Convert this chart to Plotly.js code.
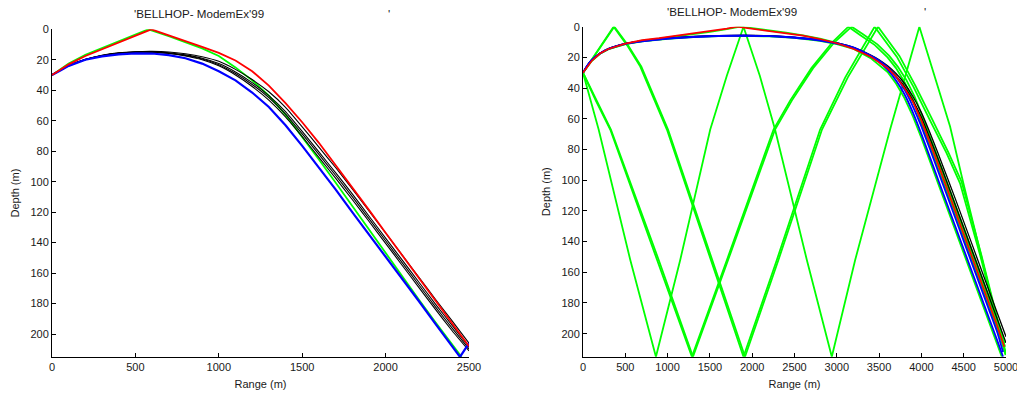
<!DOCTYPE html>
<html>
<head>
<meta charset="utf-8">
<script src="https://cdn.plot.ly/plotly-3.0.1.min.js"></script>
<style>
  html, body { margin: 0; padding: 0; background: #fff; }
  #chart { width: 1017px; height: 394px; }
</style>
</head>
<body>
<div id="chart"></div>
<script>
// ---------------- LEFT PANEL (range 0-2500 m) ----------------
const rangeL_red   = [0,50,100,200,300,450,595,700,800,900,1000,1100,1200,1300,1400,1500,1600,1700,1800,1900,2000,2100,2200,2300,2400,2500];
const depthL_red   = [30,26.5,23,17.5,13.2,6.4,0,4,7.5,11.5,15.5,20.5,27.5,37,48.5,61,74.5,89,103.5,118.5,133.5,148.5,163.5,178.5,193,208];

const rangeL_green = [0,50,100,200,300,450,578,700,800,900,1000,1100,1200,1300,1400,1500,1600,1700,1800,1900,2000,2100,2200,2300,2400,2455];
const depthL_green = [30,26.2,22.5,16.8,12.3,5.5,0,4.5,8.5,12.5,17.5,25,33.5,43.5,56,70.5,85.5,100.5,116,131.5,147,162,177.5,192.5,207.5,215];

const rangeL_blue  = [0,25,50,100,200,300,400,500,600,700,800,900,1000,1100,1200,1300,1400,1500,1600,1700,1800,1900,2000,2100,2200,2300,2400,2446,2500];
const depthL_blue  = [30,28.3,27,24,20,17.8,16.4,15.8,15.9,17,19,22.5,27.5,33.5,41.5,51,63,76.5,90.5,105,120,134.5,149,164,178.5,193.5,208,215,206];

const rangeL_black  = [0,25,50,100,200,300,400,500,600,700,800,900,1000,1100,1200,1300,1400,1500,1600,1700,1800,1900,2000,2100,2200,2300,2400,2500];
const depthL_black1 = [30,28.3,26.9,23.9,19.8,17.2,15.6,14.9,14.8,15.4,16.8,19,22.5,28,35,43.5,54,67,80.5,94,108,122.5,137,151.5,166,180.5,194.5,208.5];
const depthL_black2 = [30,28.3,27,24,19.9,17.4,15.8,15.1,15.1,15.9,17.5,20,24,30,37.5,46.5,57.5,70.5,84,97.7,111.7,126,140.5,155,169.5,184,198,211];
const depthL_black3 = [30,28.2,26.8,23.8,19.7,17,15.4,14.7,14.5,14.9,16.1,18,21,26.3,33,41,51.2,64,77.3,90.7,104.7,119.2,133.7,148.2,162.8,177.3,191.5,206];
const depthL_black4 = [30,28.3,26.9,24,19.9,17.3,15.7,15,15,15.7,17.2,19.5,23.2,29,36.2,44.8,55.6,68.6,82.1,95.8,109.8,124.2,138.8,153.3,167.8,182.3,196.3,209.8];

// ---------------- RIGHT PANEL (range 0-5000 m) ----------------
const rangeR_red   = [0,100,200,300,500,700,900,1100,1300,1500,1700,1820,2000,2200,2400,2600,2800,3000,3200,3400,3600,3700,3800,3900,4000,4100,4200,4300,4400,4500,4600,4700,4800,4900,4980];
const depthR_red   = [30,22.5,17.5,14.5,11,8.8,7.5,6,4.5,3,1.2,0,1.3,2.6,4,5.8,8,10.8,14.5,19.5,27,32.5,40,49,61,75,90,105,120,135,150,165,180,195.5,208.5];

const rangeR_blue  = [0,50,100,200,300,500,700,1000,1300,1600,1900,2200,2500,2800,3000,3200,3400,3500,3600,3700,3800,3900,4000,4100,4200,4300,4400,4500,4600,4700,4800,4900,4965];
const depthR_blue1 = [30,25.5,22,17.5,14.5,11.2,9.5,7.8,6.7,6.1,5.9,6.2,7.2,9,11,14,19.5,23,28,35,44,56,70,85,100,115,130,145,160,175,190,205,215];
const depthR_blue2 = [30,25.5,22,17.4,14.4,11.1,9.4,7.7,6.6,6,5.8,6.1,7,8.8,10.7,13.6,18.8,22,26.5,32.5,41,52,65,79.5,94.5,109.5,124.5,139.5,154.5,169.5,184.5,199.5,212];

const rangeR_black  = [0,50,100,200,300,500,700,1000,1300,1600,1900,2200,2500,2800,3000,3200,3400,3500,3600,3700,3800,3900,4000,4100,4200,4300,4400,4500,4600,4700,4800,4900,5000];
const depthR_black1 = [30,25.3,21.8,17.3,14.3,11,9.2,7.5,6.4,5.8,5.6,5.9,6.9,8.7,10.6,13.5,18.5,21.5,25.5,30.5,37,45.5,56,69,83,97.5,112,127,142,157,172,187,202];
const depthR_black2 = [30,25.4,21.9,17.4,14.4,11.1,9.3,7.6,6.5,5.9,5.7,6,7,8.8,10.8,13.8,19,22.2,26.5,32,39,48,59,72.5,86.5,101,116,131,146,161,176,191,206];

// green rays (steep, bouncing between surface and bottom)
const rangeR_gA = [0,185,559,862,1149,1504,1700,1897,2090,2270,2646,2941,3217,3630,3976,4182,4339,4496,4750,4995];
const depthR_gA = [30,67,152,215,152,67,32,0,32,67,152,215,152,67,0,37,65,102,160,214];

const rangeR_gB1 = [0,362,520,677,992,1515,1897,2291,2803,3100,3447,3709,3905,4102,4299,4457,4700,4990];
const depthR_gB1 = [30,0,12,26,67,152,215,152,67,33,0,19.5,39,61,82.5,102,150,213];
const rangeR_gB2 = [0,370,530,690,1005,1530,1915,2310,2825,3130,3487,3740,3930,4125,4320,4475,4710,4995];
const depthR_gB2 = [30,0,12,26,67,152,215,152,67,33,0,19,38.5,60,82,101,149,212];

const rangeR_gC1 = [0,150,322,880,1287,1701,2252,2450,2700,2950,3137,3275,3450,3600,3700,3800,3900,4000,4100,4200,4300,4400,4500,4600,4700,4800,4900,4975];
const depthR_gC1 = [30,48,67,152,215,152,67,48,27,10,0,5.4,12,20,27,36,47.5,63,77.5,92.5,107.5,122.5,137.5,152.5,167.5,182.5,197.5,209];
const rangeR_gC2 = [0,150,330,895,1300,1715,2270,2470,2720,2975,3176,3310,3480,3620,3720,3820,3920,4020,4120,4220,4320,4420,4520,4620,4720,4820,4920,4985];
const depthR_gC2 = [30,47,67,152,215,152,67,48,27,10,0,5,11.5,19,26,34.5,45.5,59.5,74,89,104,119,134,149,164,179,194,206];

const rangeR_gD = [0,100,200,300,500,700,900,1100,1300,1500,1700,1860,2000,2200,2400,2600,2800,3000,3200,3400,3600,3800,4000,4200,4400,4600,4800,4990];
const depthR_gD = [30,22.5,17.6,14.7,11.3,9.1,7.8,6.4,4.9,3.4,1.6,0,1,2.3,3.8,5.6,7.8,10.5,14,19,26.5,39,59,88,118,148,178,208.5];

const rangeR_gE = [0,100,200,300,500,700,1000,1300,1600,1900,2200,2500,2800,3000,3200,3400,3600,3700,3800,3900,4000,4100,4200,4300,4400,4500,4600,4700,4800,4900,4950];
const depthR_gE = [30,22,17.6,14.6,11.3,9.6,7.9,6.8,6.2,6,6.3,7.3,9.2,11.3,14.5,20.5,29.5,37,46.5,58.5,72.5,87.5,102.5,117.5,132.5,147.5,162.5,177.5,192.5,207.5,215];

// axis ticks
const xTicksL = [0,500,1000,1500,2000,2500];
const xTicksR = [0,500,1000,1500,2000,2500,3000,3500,4000,4500,5000];
const yTicks  = [0,20,40,60,80,100,120,140,160,180,200];
const titleText = "'BELLHOP- ModemEx'99";

// ---------------- build ----------------
const GREEN = '#00ff00', RED = '#ff0000', BLUE = '#0000ff', BLACK = '#000000';
function ray(x, y, color, w, ax) {
  return { x: x, y: y, type: 'scatter', mode: 'lines', xaxis: ax[0], yaxis: ax[1],
           line: { color: color, width: w, shape: 'spline', smoothing: 0.4 }, hoverinfo: 'skip', showlegend: false };
}
function zig(x, y, color, w, ax) {
  return { x: x, y: y, type: 'scatter', mode: 'lines', xaxis: ax[0], yaxis: ax[1],
           line: { color: color, width: w }, hoverinfo: 'skip', showlegend: false };
}
const L = ['x', 'y'], R = ['x2', 'y2'];
const traces = [
  zig(rangeL_green, depthL_green, GREEN, 1.8, L),
  ray(rangeL_black, depthL_black1, BLACK, 1.1, L),
  ray(rangeL_black, depthL_black2, BLACK, 1.1, L),
  ray(rangeL_black, depthL_black3, BLACK, 1.1, L),
  ray(rangeL_black, depthL_black4, BLACK, 1.1, L),
  zig(rangeL_blue, depthL_blue, BLUE, 2.2, L),
  zig(rangeL_red, depthL_red, RED, 1.8, L),

  zig(rangeR_gA, depthR_gA, GREEN, 1.8, R),
  zig(rangeR_gB1, depthR_gB1, GREEN, 1.8, R),
  zig(rangeR_gB2, depthR_gB2, GREEN, 1.8, R),
  zig(rangeR_gC1, depthR_gC1, GREEN, 1.8, R),
  zig(rangeR_gC2, depthR_gC2, GREEN, 1.8, R),
  zig(rangeR_gD, depthR_gD, GREEN, 1.8, R),
  zig(rangeR_gE, depthR_gE, GREEN, 1.8, R),
  ray(rangeR_black, depthR_black1, BLACK, 1.3, R),
  ray(rangeR_black, depthR_black2, BLACK, 1.3, R),
  ray(rangeR_blue, depthR_blue1, BLUE, 1.8, R),
  ray(rangeR_blue, depthR_blue2, BLUE, 1.8, R),
  zig(rangeR_red, depthR_red, RED, 1.7, R)
];

const FONT = { family: '"Liberation Sans", Arial, Helvetica, sans-serif', size: 11, color: '#1a1a1a' };
const TFONT = { family: '"Liberation Sans", Arial, Helvetica, sans-serif', size: 11.6, color: '#1a1a1a' };
function xaxis(ticks, max, dom, anchor) {
  return { domain: dom, anchor: anchor, range: [0, max], tickmode: 'array', tickvals: ticks,
           ticktext: ticks.map(String), ticks: 'inside', ticklen: 4, tickwidth: 1, tickcolor: '#000',
           showline: true, linecolor: '#000', linewidth: 1, mirror: false, showgrid: false, zeroline: false,
           tickfont: FONT, automargin: false, ticklabeloverflow: 'allow',
           title: { text: 'Range (m)', font: FONT, standoff: 8 } };
}
function yaxis(dom, anchor) {
  return { domain: dom, anchor: anchor, range: [215, 0], tickmode: 'array', tickvals: yTicks,
           ticktext: yTicks.map(String), ticks: 'inside', ticklen: 4, tickwidth: 1, tickcolor: '#000',
           showline: true, linecolor: '#000', linewidth: 1, mirror: false, showgrid: false, zeroline: false,
           tickfont: FONT, automargin: false, ticklabeloverflow: 'allow',
           title: { text: 'Depth (m)', font: FONT, standoff: 8 } };
}
const W = 1017, H = 394;
const layout = {
  width: W, height: H, margin: { l: 0, r: 0, t: 0, b: 0 },
  paper_bgcolor: '#fff', plot_bgcolor: '#fff', showlegend: false,
  xaxis:  xaxis(xTicksL, 2500, [52 / W, 469 / W], 'y'),
  yaxis:  yaxis([1 - 356.9 / H, 1 - 29.3 / H], 'x'),
  xaxis2: xaxis(xTicksR, 5000, [583 / W, 1006 / W], 'y2'),
  yaxis2: yaxis([1 - 356.7 / H, 1 - 26.7 / H], 'x2'),
  annotations: [
    { text: titleText, x: 198.5 / W, y: 1 - 13.5 / H, xref: 'paper', yref: 'paper', xanchor: 'center', yanchor: 'middle', showarrow: false, font: TFONT },
    { text: "'", x: 388.5 / W, y: 1 - 13.5 / H, xref: 'paper', yref: 'paper', xanchor: 'center', yanchor: 'middle', showarrow: false, font: TFONT },
    { text: titleText, x: 732 / W, y: 1 - 11 / H, xref: 'paper', yref: 'paper', xanchor: 'center', yanchor: 'middle', showarrow: false, font: TFONT },
    { text: "'", x: 925 / W, y: 1 - 11 / H, xref: 'paper', yref: 'paper', xanchor: 'center', yanchor: 'middle', showarrow: false, font: TFONT }
  ]
};
Plotly.newPlot('chart', traces, layout, { displayModeBar: false, staticPlot: true });
</script>
</body>
</html>
